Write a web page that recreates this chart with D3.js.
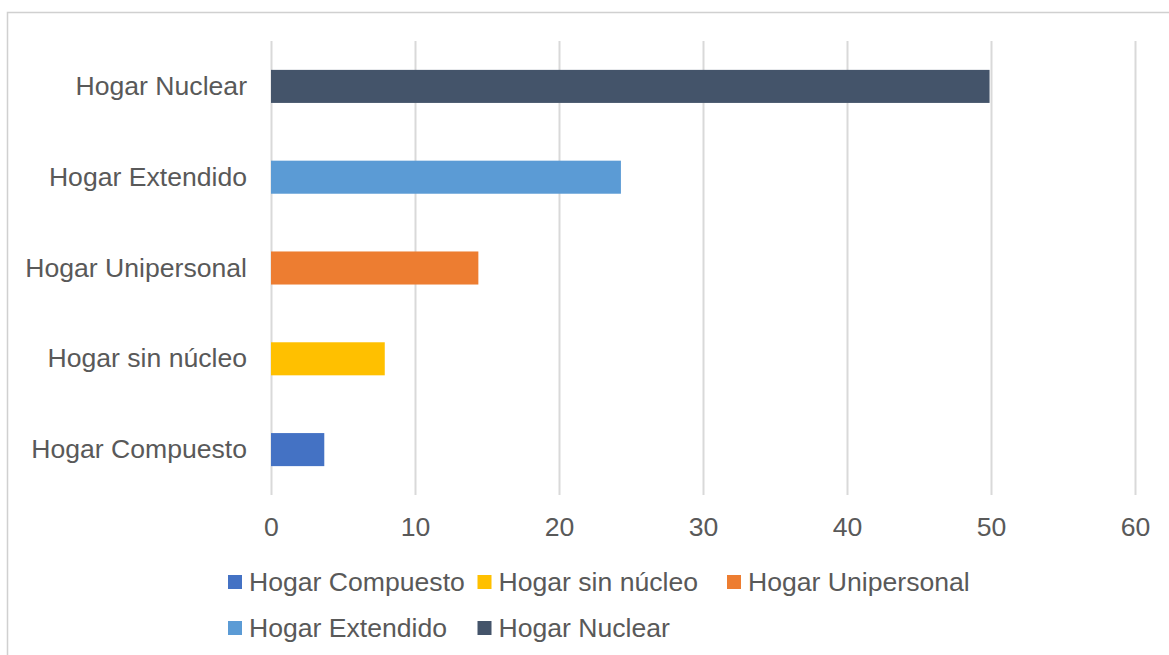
<!DOCTYPE html>
<html>
<head>
<meta charset="utf-8">
<script src="https://cdn.jsdelivr.net/npm/d3@7.9.0/dist/d3.min.js"></script>
<style>
  body { margin: 0; background: #fff; }
  svg { display: block; font-family: "Liberation Sans", Arial, sans-serif; }
</style>
</head>
<body>
<div id="chart"></div>
<script>
const categories = ['Hogar Compuesto', 'Hogar sin núcleo', 'Hogar Unipersonal', 'Hogar Extendido', 'Hogar Nuclear'];
const values = [3.7, 7.9, 14.4, 24.3, 49.9];
const colors = ['#4472C4', '#FFC000', '#ED7D31', '#5B9BD5', '#44546A'];
const xTicks = [0, 10, 20, 30, 40, 50, 60];

const width = 1169;
const height = 655;
const textColor = '#595959';
const fontSize = 26.6;

const plot = { left: 271, right: 1135, top: 41, bottom: 495 };

const svg = d3.select('#chart')
  .append('svg')
  .attr('width', width)
  .attr('height', height);

// chart border (runs off the right/bottom of the picture)
svg.append('rect')
  .attr('x', 7.5)
  .attr('y', 12.5)
  .attr('width', width + 20)
  .attr('height', height + 20)
  .attr('fill', 'none')
  .attr('stroke', '#d0d0d0')
  .attr('stroke-width', 1.5);

const xScale = d3.scaleLinear().domain([0, 60]).range([plot.left, plot.right]);

const yScale = d3.scaleBand()
  .domain(categories.slice().reverse())
  .range([plot.top, plot.bottom])
  .paddingInner(0.636)
  .paddingOuter(0.318);

// gridlines
const grid = svg.append('g')
  .attr('transform', `translate(0, ${plot.bottom})`)
  .call(d3.axisBottom(xScale).tickValues(xTicks).tickFormat('').tickSize(-(plot.bottom - plot.top)));
grid.select('.domain').remove();
grid.selectAll('line').attr('stroke', '#d9d9d9').attr('stroke-width', 2);

// bars
svg.append('g')
  .selectAll('rect')
  .data(categories)
  .join('rect')
  .attr('x', xScale(0))
  .attr('y', (d) => yScale(d))
  .attr('width', (d, i) => xScale(values[i]) - xScale(0))
  .attr('height', yScale.bandwidth())
  .attr('fill', (d, i) => colors[i]);

// x axis labels
const xAxis = svg.append('g')
  .attr('transform', `translate(0, ${plot.bottom})`)
  .call(d3.axisBottom(xScale).tickValues(xTicks).tickSize(0).tickPadding(22));
xAxis.select('.domain').remove();
xAxis.selectAll('text')
  .attr('fill', textColor)
  .style('font-size', fontSize + 'px')
  .style('font-family', '"Liberation Sans", Arial, sans-serif');

// y axis labels
const yAxis = svg.append('g')
  .attr('transform', `translate(${plot.left}, 0)`)
  .call(d3.axisLeft(yScale).tickSize(0).tickPadding(24));
yAxis.select('.domain').remove();
yAxis.selectAll('text')
  .attr('fill', textColor)
  .style('font-size', fontSize + 'px')
  .style('font-family', '"Liberation Sans", Arial, sans-serif');

// legend
const legend = svg.append('g');
const items = legend.selectAll('g')
  .data(categories)
  .join('g')
  .attr('transform', (d, i) => `translate(${228 + (i % 3) * 249.5}, ${582 + Math.floor(i / 3) * 46})`);

items.append('rect')
  .attr('x', 0)
  .attr('y', -7)
  .attr('width', 14)
  .attr('height', 14)
  .attr('fill', (d, i) => colors[i]);

items.append('text')
  .attr('x', 21)
  .attr('y', 0)
  .attr('dy', '0.35em')
  .attr('fill', textColor)
  .style('font-size', fontSize + 'px')
  .text((d) => d);
</script>
</body>
</html>
